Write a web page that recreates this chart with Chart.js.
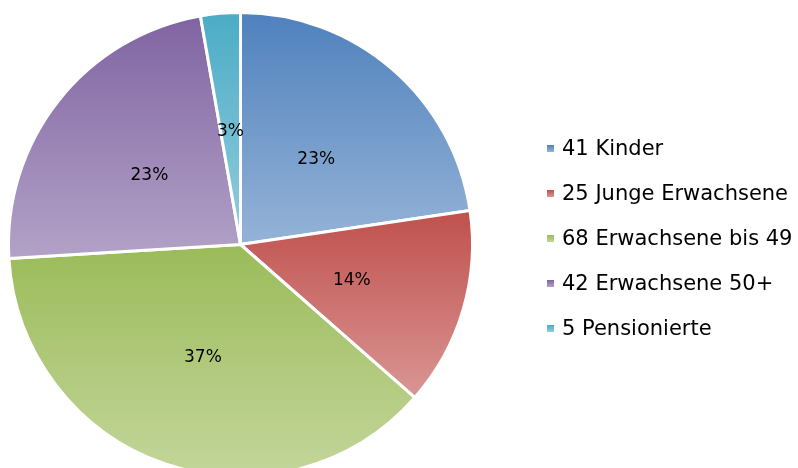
<!DOCTYPE html>
<html>
<head>
<meta charset="utf-8">
<script src="https://cdn.jsdelivr.net/npm/chart.js@4/dist/chart.umd.min.js"></script>
<style>
    html, body { margin: 0; padding: 0; background: #fff; overflow: hidden; }
    #wrap { position: relative; width: 798px; height: 468px; overflow: hidden; }
    #box { position: absolute; left: 0; top: 0; width: 798px; height: 482px; }
    #legend { position: absolute; left: 547px; top: 0; margin: 0; padding: 0; list-style: none;
        font-family: "DejaVu Sans", Verdana, sans-serif; font-size: 21px; color: #000; }
    #legend li { position: absolute; left: 0; white-space: nowrap; line-height: 24px; }
    #legend span { display: inline-block; width: 7px; height: 7px; margin-right: 8px; vertical-align: 3px; }
</style>
</head>
<body>
<div id="wrap">
    <div id="box"><canvas id="pieChart"></canvas></div>
    <ul id="legend"></ul>
</div>
<script>
// data
var labels = ['41 Kinder', '25 Junge Erwachsene', '68 Erwachsene bis 49', '42 Erwachsene 50+', '5 Pensionierte'];
var values = [41, 25, 68, 42, 5];
var pctLabels = ['23%', '14%', '37%', '23%', '3%'];

// gradient colours, top -> bottom of each slice
var topColors = ['#4f81bd', '#c0504d', '#9bbb59', '#8064a2', '#4bacc6'];
var bottomColors = ['#95b3d7', '#d99694', '#c3d69b', '#b3a2c7', '#93cddd'];

// vertical gradient over each slice's own bounding box
var sliceGradient = {
    id: 'sliceGradient',
    beforeDatasetsDraw: function (chart) {
        var ctx = chart.ctx;
        chart.getDatasetMeta(0).data.forEach(function (arc, i) {
            var r = arc.outerRadius;
            var ys = [arc.y, arc.y + r * Math.sin(arc.startAngle), arc.y + r * Math.sin(arc.endAngle)];
            for (var k = -4; k <= 4; k++) {
                var a = Math.PI / 2 + k * Math.PI;
                if (a > arc.startAngle && a < arc.endAngle) ys.push(arc.y + r * Math.sin(a));
            }
            var g = ctx.createLinearGradient(0, Math.min.apply(null, ys), 0, Math.max.apply(null, ys));
            g.addColorStop(0, topColors[i]);
            g.addColorStop(1, bottomColors[i]);
            arc.options.backgroundColor = g;
        });
    }
};

// percentage labels in the middle of each slice
var pctText = {
    id: 'pctText',
    afterDatasetsDraw: function (chart) {
        var ctx = chart.ctx;
        ctx.save();
        ctx.font = '17px "DejaVu Sans", Verdana, sans-serif';
        ctx.fillStyle = '#000';
        ctx.textAlign = 'center';
        ctx.textBaseline = 'middle';
        chart.getDatasetMeta(0).data.forEach(function (arc, i) {
            var p = arc.tooltipPosition();
            ctx.fillText(pctLabels[i], p.x, p.y + 3);
        });
        ctx.restore();
    }
};

var ctx = document.getElementById('pieChart').getContext('2d');
var pieChart = new Chart(ctx, {
    type: 'pie',
    data: {
        labels: labels,
        datasets: [{
            data: values,
            backgroundColor: topColors.slice(),
            borderColor: '#ffffff',
            borderWidth: 3,
            radius: 232
        }]
    },
    options: {
        responsive: true,
        maintainAspectRatio: false,
        animation: false,
        layout: { padding: { left: 9, right: 326, top: 13, bottom: 6 } },
        plugins: {
            legend: { display: false },
            tooltip: { enabled: false }
        }
    },
    plugins: [sliceGradient, pctText]
});

// legend
var legend = document.getElementById('legend');
labels.forEach(function (text, i) {
    var li = document.createElement('li');
    li.style.top = (136 + i * 45) + 'px';
    li.innerHTML = '<span style="background:linear-gradient(' + topColors[i] + ',' + bottomColors[i] + ')"></span>' + text;
    legend.appendChild(li);
});
</script>
</body>
</html>
